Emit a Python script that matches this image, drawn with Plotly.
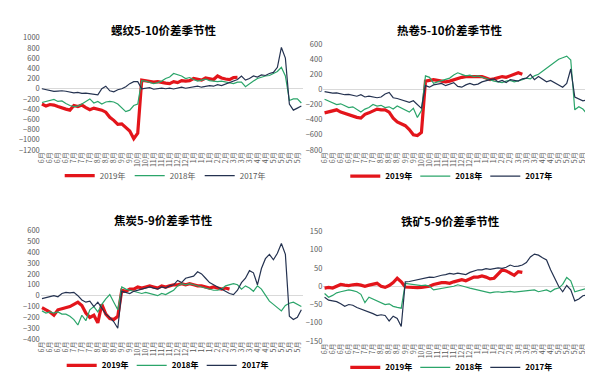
import plotly.graph_objects as go

# ---------------- tick labels (category axis, one label every 2 points) ----------------
months = ["6月", "6月", "6月", "6月", "7月", "7月", "7月", "8月", "8月", "8月", "9月", "9月",
          "10月", "10月", "11月", "11月", "11月", "12月", "12月", "1月", "1月", "1月", "2月", "2月",
          "3月", "3月", "3月", "4月", "4月", "5月", "5月", "5月", "5月"]
series_names = ["2019年", "2018年", "2017年"]

# ---------------- 螺纹5-10 ----------------
rb_2019 = [-300, -340, -310, -320, -350, -380, -400, -420, -330, -350,
           -320, -370, -410, -380, -400, -420, -460, -560, -620, -700,
           -690, -760, -830, -980, -870, 170, 160, 150, 130, 140,
           120, 110, 100, 140, 120, 160, 150, 160, 200, 190,
           170, 210, 200, 180, 250, 210, 190, 180, 220, 225]
rb_2018 = [-270, -250, -240, -210, -250, -240, -290, -330, -350, -340,
           -300, -250, -200, -280, -250, -300, -260, -250, -260, -300,
           -380, -450, -420, -330, -300, 160, 150, 130, 100, 120,
           150, 200, 230, 300, 270, 250, 200, 220, 180, 150,
           170, 190, 160, 150, 140, 150, 130, 120, 100, 130,
           130, 40, 100, 150, 200, 230, 250, 260, 300, 340,
           420, 250, -230, -200, -200, -280]
rb_2017 = [0, -20, -40, -50, -45, -40, -50, -60, -80, -70,
           -90, -85, -100, -110, -120, 0, 50, -40, -60, -20,
           0, 40, 100, 140, 140, 0, 10, 20, -10, 0,
           10, 0, 10, -5, 20, 30, 10, 20, 40, 50,
           30, 40, 60, 50, 80, 60, 90, 120, 140, 180,
           250, 170, 200, 250, 230, 270, 260, 300, 320, 420,
           810, 600, -300, -420, -380, -340]

# ---------------- 热卷5-10 ----------------
hc_2019 = [-310, -300, -280, -270, -300, -320, -330, -350, -370, -380,
           -330, -310, -280, -260, -270, -270, -300, -380, -430, -460,
           -480, -530, -600, -610, -570, 110, 120, 130, 120, 110,
           100, 110, 130, 150, 160, 170, 170, 170, 160, 170,
           150, 130, 140, 160, 170, 160, 180, 200, 220, 200]
hc_2018 = [-130, -150, -170, -200, -190, -210, -240, -230, -270, -300,
           -260, -240, -200, -220, -210, -240, -230, -260, -220, -250,
           -280, -300, -250, -370, -280, 180, 160, 80, 100, 120,
           140, 150, 190, 220, 200, 180, 190, 170, 180, 160,
           150, 130, 110, 100, 90, 110, 120, 100, 110, 130,
           150, 140, 180, 200, 240, 280, 320, 350, 400, 420,
           440, 390, -270, -230, -260, -320]
hc_2017 = [-30, -40, -50, -45, -60, -70, -65, -80, -90, -70,
           -100, -90, -100, -110, -100, -60, -40, -110, -120, -140,
           -150, -170, -150, -200, -250, 50, 30, 60, 70, 80,
           50, 70, 90, 40, 30, 60, 80, 60, 70, 100,
           120, 130, 140, 100, 120, 90, 130, 120, 110, 140,
           150, 200, 130, 170, 140, 100, 120, 90, 60, 30,
           80, 270, -100, -120, -150, -140]

# ---------------- 焦炭5-9 ----------------
cj_2019 = [-110, -130, -150, -180, -130, -120, -110, -100, -80, -60,
           -90, -160, -200, -180, -250, -80, -170, -210, -220, -190,
           50, 40, 60, 60, 80, 70, 80, 90, 80, 70,
           90, 80, 90, 100, 100, 110, 100, 110, 100, 90,
           90, 80, 70, 80, 70, 60, 70, 60]
cj_2018 = [-140, -160, -150, -160, -150, -170, -170, -190, -220, -270,
           -180, -230, -130, -100, -150, -80, -30, 10, -60, -130,
           80, 60, 50, 40, 30, 20, 30, 20, 10, 0,
           20, 10, 30, 50, 90, 110, 100, 110, 100, 90,
           80, 70, 60, 50, 50, 60, 90, 100, 110, 100,
           60, 90, 70, 40, 90, 60, 0, -50, -80, -110,
           -140, -90, -70, -60, -80, -100]
cj_2017 = [-27, -20, -10, 0, -10, 20, 30, 25, 30, 0,
           -40, -60, -50, -100, -60, -120, -170, -200, -240, -300,
           40, 30, 20, 40, 50, 60, 70, 80, 70, 60,
           80, 70, 90, 100, 140, 120, 160, 170, 180, 220,
           200, 160, 120, 100, 80, 60, 40, 20, 10, 50,
           120, 160, 230, 210, 100, 250, 340, 380, 330, 390,
           480, 380, -190, -220, -200, -130]

# ---------------- 铁矿5-9 ----------------
io_2019 = [-5, -3, -5, 0, 5, 3, 2, 4, 5, 3,
           0, 3, 5, 8, 0, -3, 2, 10, 22, 12,
           -2, -3, -5, -4, -3, -2, 0, 5, 8, 10,
           10, 8, 12, 15, 18, 15, 20, 25, 25, 28,
           25, 20, 22, 35, 45, 42, 35, 30, 40, 38]
io_2018 = [-20, -30, -25, -18, -15, -12, -10, -12, -15, -22,
           -45, -30, -35, -40, -45, -50, -48, -55, -58, -60,
           8, 6, 5, 4, 2, 3, 0, -10, -8, -6,
           -5, -2, 0, 4, 2, -2, -5, -8, -10, -12,
           -15, -18, -16, -15, -17, -15, -14, -16, -15, -14,
           -12, -12, -10, -15, -12, -10, -15, -8, -5, 5,
           24, 15, -15, -12, -8, -6]
io_2017 = [-30, -38, -40, -42, -48, -55, -50, -52, -58, -62,
           -65, -70, -75, -80, -78, -80, -95, -82, -88, -110,
           12, 13, 15, 18, 20, 22, 25, 24, 28, 30,
           32, 35, 33, 36, 34, 32, 38, 42, 45, 45,
           48, 46, 48, 50, 49, 52, 58, 54, 55, 58,
           65, 80, 88, 85, 78, 72, 45, 20, 0, -15,
           2, -10, -40, -35, -26, -24]

COLORS = ["#E3151B", "#2BA56A", "#243250"]
WIDTHS = [3.2, 1.2, 1.2]
FONT = "Noto Sans CJK SC"

W, H = 593, 374
panels = [
    dict(title="螺纹5-10价差季节性", data=[rb_2019, rb_2018, rb_2017], yr=[-1200, 1000], dt=200,
         xd=[28 / W, 292 / W], yd=[1 - 140 / H, 1 - 24.5 / H], tx=152, ty=17, lx=153, ly=166.5, bold=False),
    dict(title="热卷5-10价差季节性", data=[hc_2019, hc_2018, hc_2017], yr=[-800, 600], dt=200,
         xd=[313 / W, 580 / W], yd=[1 - 140 / H, 1 - 31 / H], tx=441, ty=17, lx=441, ly=167, bold=True),
    dict(title="焦炭5-9价差季节性", data=[cj_2019, cj_2018, cj_2017], yr=[-400, 600], dt=100,
         xd=[28 / W, 292 / W], yd=[1 - 335 / H, 1 - 223 / H], tx=152, ty=212, lx=155, ly=362, bold=True),
    dict(title="铁矿5-9价差季节性", data=[io_2019, io_2018, io_2017], yr=[-150, 150], dt=50,
         xd=[313 / W, 580 / W], yd=[1 - 337 / H, 1 - 224 / H], tx=441, ty=213, lx=441, ly=364, bold=True),
]

fig = go.Figure()
layout = dict(width=W, height=H, autosize=False, margin=dict(l=0, r=0, t=0, b=0),
              paper_bgcolor="white", plot_bgcolor="white", showlegend=True,
              font=dict(family=FONT, color="#595959"))
annotations = []
tickvals = list(range(0, 2 * len(months), 2))

for i, p in enumerate(panels):
    n = "" if i == 0 else str(i + 1)
    xa, ya = "x" + n, "y" + n
    lg = "legend" + n
    for j, vals in enumerate(p["data"]):
        fig.add_trace(go.Scatter(
            x=list(range(len(vals))), y=vals, mode="lines",
            name=series_names[j], xaxis=xa, yaxis=ya, legend=lg,
            line=dict(color=COLORS[j], width=WIDTHS[j]),
            hoverinfo="skip"))
    layout["xaxis" + n] = dict(domain=p["xd"], anchor=ya, range=[-0.3, 65.3],
                               tickvals=tickvals, ticktext=months, tickangle=-90,
                               tickfont=dict(size=7, color="#595959", family=FONT),
                               showgrid=False, zeroline=False, showline=False, ticks="")
    layout["yaxis" + n] = dict(domain=p["yd"], anchor=xa, range=p["yr"], dtick=p["dt"],
                               tickfont=dict(size=7.5, color="#595959", family=FONT),
                               showgrid=False, zeroline=True, zerolinecolor="#D9D9D9",
                               zerolinewidth=1, showline=False, ticks="")
    txtcolor = "#000000" if p["bold"] else "#595959"
    layout[lg] = dict(orientation="h", x=p["lx"] / W, y=1 - p["ly"] / H,
                      xanchor="center", yanchor="middle", bgcolor="rgba(0,0,0,0)",
                      font=dict(size=8, color=txtcolor, family=FONT,
                                weight="bold" if p["bold"] else "normal"),
                      entrywidth=25, entrywidthmode="pixels", itemwidth=30)
    annotations.append(dict(text="<b>" + p["title"] + "</b>", xref="paper", yref="paper",
                            x=p["tx"] / W, y=1 - p["ty"] / H, xanchor="center", yanchor="middle",
                            showarrow=False, font=dict(size=11.5, color="#000000", family=FONT)))

layout["annotations"] = annotations
fig.update_layout(**layout)
fig.write_html("out.html")
